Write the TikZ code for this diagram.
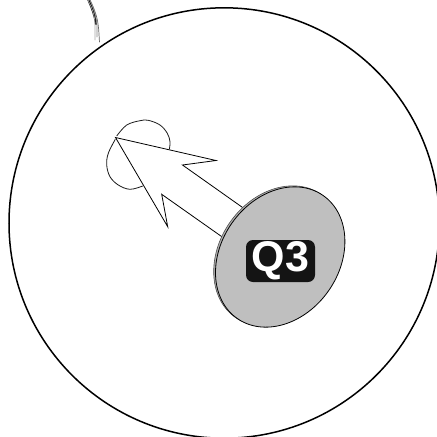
\documentclass[tikz,border=0pt]{standalone}
\usepackage{fontspec}
\setmainfont{Liberation Sans}
\tikzset{
  outl/.style={draw=black,line width=0.8pt,line join=miter},
  thin outl/.style={draw=black!90,line width=0.8pt},
  hair/.style={line cap=round,fill=none}
}
\begin{document}
\begin{tikzpicture}[x=1pt,y=-1pt]
\useasboundingbox (0,0) rectangle (437,437);
\begin{scope}
\clip (0,0) rectangle (437,437);
\draw[black,line width=1.5pt] (224.2,223) circle[radius=215.2];
% hairs
\draw[hair,line width=2pt,black] (88,-1) .. controls (92,8) and (95,16) .. (96,24);
\draw[hair,line width=.7pt,black!60] (90,0) .. controls (94,8) and (97,16) .. (98,24) .. controls (99,30) and (99,36) .. (99.5,42);
\draw[hair,line width=.7pt,black!35] (88,0) .. controls (92,8) and (95,16) .. (95,24) .. controls (95,30) and (95,35) .. (95,40);
\draw[hair,line width=.7pt,black!50] (90,0) .. controls (94,8) and (96,16) .. (97,26) .. controls (97,30) and (97,33) .. (97,37);
% small circle
\draw[thin outl] plot[smooth,tension=.6] coordinates {(116.7,136) (126.7,125) (140,120.7) (148.3,120.3) (160,125) (167.3,133.3) (170,141.7) (169.3,149.3)};
\draw[thin outl] plot[smooth,tension=.6] coordinates {(115.3,139.3) (108.3,153.3) (106.7,165) (110,176.7) (118.3,185) (130,189.3) (142.7,186)};
% arrow
\coordinate (tip) at (115.5,137.5);
\coordinate (b1) at (216,160.5);
\coordinate (i1) at (182.5,165);
\coordinate (e1) at (243.3,208);
\coordinate (e2) at (222.7,237.3);
\coordinate (i2) at (161.7,194.3);
\coordinate (b2) at (167.7,226.7);
\draw[outl,fill=white] (e1) -- (i1) -- (b1) -- (tip) -- (b2) -- (i2) -- (e2);
% disc
\draw[black!70,line width=.6pt,fill=black!30] (278.4,256) ellipse[x radius=75,y radius=59,rotate=55];
\draw[black,line width=.8pt,fill=black!25] (280.2,257) ellipse[x radius=75,y radius=59,rotate=55];
\node[fill=black!92,rounded corners=7pt,minimum width=69pt,minimum height=42pt,inner sep=0pt,text=white,font=\bfseries\fontsize{43}{43}\selectfont] (q) at (280.5,261) {Q3};
\end{scope}
\end{tikzpicture}
\end{document}
